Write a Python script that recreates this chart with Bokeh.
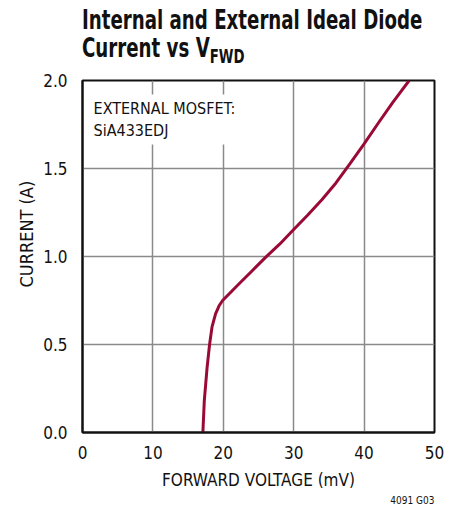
from bokeh.plotting import figure
from bokeh.layouts import column
from bokeh.models import Label, Title, Div, FixedTicker, NumeralTickFormatter
from bokeh.embed import file_html
from bokeh.resources import INLINE

voltage_mv = [17.1, 17.3, 17.7, 18.05, 18.4, 18.9, 19.4, 19.9, 22, 24, 26, 28, 30,
              32, 34, 36, 38, 40, 42, 44, 46.4]
current_a = [0.0, 0.18, 0.37, 0.5, 0.6, 0.674, 0.72, 0.75, 0.835, 0.915, 0.995, 1.07, 1.153,
             1.236, 1.322, 1.418, 1.528, 1.64, 1.757, 1.872, 2.0]
x_ticks = [0, 10, 20, 30, 40, 50]
y_ticks = [0.0, 0.5, 1.0, 1.5, 2.0]

FONT = "'DejaVu Sans Condensed', 'DejaVu Sans', sans-serif"
INK = "#111111"
CURVE = "#9a0a36"

title_html = (
    "<div style=\"padding:6px 0 0 82px; margin:0;\">"
    "<div style=\"font-family:'DejaVu Sans', sans-serif; font-weight:bold; font-size:26px;"
    " line-height:28px; color:#111; white-space:nowrap; transform:scaleX(0.70);"
    " transform-origin:0 0;\">"
    "Internal and External Ideal Diode<br>"
    "Current vs V<span style=\"font-size:19px; position:relative; top:6px;\">FWD</span>"
    "</div></div>"
)
header = Div(text=title_html, width=445, height=68, margin=(0, 0, 0, 0))

p = figure(output_backend="svg", toolbar_location=None,
           frame_width=352, frame_height=352,
           min_border_left=82, min_border_right=11, min_border_top=12, min_border_bottom=67,
           x_range=(0, 50), y_range=(0, 2.0), margin=(0, 0, 0, 0))

p.line(voltage_mv, current_a, line_color=CURVE, line_width=3)

p.xaxis.ticker = FixedTicker(ticks=x_ticks)
p.yaxis.ticker = FixedTicker(ticks=y_ticks)
p.yaxis.formatter = NumeralTickFormatter(format="0.0")
for ax in (p.xaxis[0], p.yaxis[0]):
    ax.major_tick_line_color = None
    ax.minor_tick_line_color = None
    ax.axis_line_color = INK
    ax.axis_line_width = 2
    ax.major_label_text_font = FONT
    ax.major_label_text_font_size = "17px"
    ax.major_label_text_color = INK
p.xaxis.major_label_standoff = 7
p.yaxis.major_label_standoff = 9
p.xaxis.axis_label = "FORWARD VOLTAGE (mV)"
p.xaxis.axis_label_text_font = FONT
p.xaxis.axis_label_text_font_size = "17px"
p.xaxis.axis_label_text_font_style = "normal"
p.xaxis.axis_label_text_color = INK
p.xaxis.axis_label_standoff = 8

p.outline_line_color = INK
p.outline_line_width = 2
p.grid.grid_line_color = "#8a8a8a"
p.grid.grid_line_width = 1.5

# y axis label, starting above the frame bottom like the reference
p.add_layout(Title(text="CURRENT (A)", align="left", offset=145, standoff=8,
                   text_font=FONT, text_font_size="18px", text_font_style="normal",
                   text_color=INK), "left")

# footer code
p.add_layout(Title(text="4091 G03", align="right", standoff=0,
                   text_font=FONT, text_font_size="10px", text_font_style="normal",
                   text_color=INK), "below")

# annotation
p.add_layout(Label(x=1.0, y=1.92, text="EXTERNAL MOSFET:\nSiA433EDJ", text_font=FONT,
                   text_font_size="16px", text_color=INK, text_baseline="top",
                   text_line_height=1.2,
                   background_fill_color="white", padding=4))

layout = column(header, p, spacing=0, margin=(0, 0, 0, 0))
open("out.html", "w").write(file_html(layout, INLINE))
